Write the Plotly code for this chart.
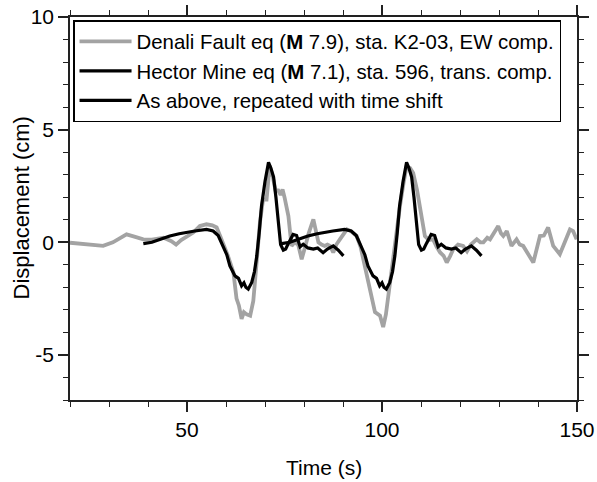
import plotly.graph_objects as go

# Denali Fault eq, sta. K2-03, EW comp. (time s, displacement cm)
denali_t = [20, 24, 28.5, 31, 34.5, 36.5, 38.8, 41, 44, 46, 47.2, 48.5, 50, 51.6, 53.3, 55.0,
            56.5, 57.6, 58.5, 59.5, 60.5, 61.9, 62.7, 63.3, 64.0, 64.6, 65.3, 66.2, 67.0, 67.8,
            68.7, 69.5, 70.4, 71.2, 72.0, 72.7, 73.4, 74.0, 74.5, 75.0, 76.0, 76.8, 77.6, 78.5,
            79.4, 80.3, 81.2, 82.4, 83.0, 83.7, 84.5, 85.3, 86.0, 86.7, 87.5, 88.3, 89.2, 90.0,
            91.0, 92.0, 93.5, 94.5, 95.5, 96.9, 97.6, 98.2, 99.5, 100.3, 101.0, 101.6, 102.5,
            103.3, 104.6, 105.5, 106.3, 107.2, 108.0, 109.0, 109.7, 110.4, 111.0, 112.0, 113.1,
            114.0, 114.9, 115.8, 116.6, 117.5, 118.3, 119.5, 120.8, 121.8, 122.8, 124.3, 125.2,
            126.0, 127.0, 127.7, 128.8, 129.8, 130.5, 131.1, 132.0, 133.2, 134.5, 135.3, 136.2,
            137.5, 138.8, 140.5, 141.5, 142.6, 143.2, 143.9, 145.6, 147.0, 148.2, 149.0, 149.9]
denali_d = [-0.02, -0.1, -0.16, 0.0, 0.35, 0.25, 0.13, 0.12, 0.2, 0.05, -0.1, 0.1, 0.25, 0.43, 0.72, 0.8,
            0.75, 0.66, 0.28, -0.16, -0.6, -1.34, -2.5, -2.8, -3.4, -3.1, -3.2, -3.26, -2.6, -1.0,
            0.88, 1.9, 1.9, 3.4, 2.9, 2.3, 2.3, 2.1, 2.35, 2.0, 1.16, -0.16, 0.0, -0.1,
            -0.75, -0.2, 0.4, 1.02, 0.6, 0.0, -0.1, -0.16, -0.1, -0.16, -0.45, -0.1, 0.13, 0.3,
            0.57, 0.5, 0.28, -0.2, -1.0, -2.2, -2.7, -3.1, -3.26, -3.76, -3.2, -2.37, -1.2,
            -0.16, 1.6, 2.6, 3.37, 3.3, 3.08, 2.3, 1.6, 0.8, 0.28, 0.1, 0.13,
            -0.2, -0.45, -0.6, -0.9, -0.6, -0.3, -0.1, -0.16, -0.4, -0.1, 0.13, 0.0,
            0.0, 0.2, 0.13, 0.45, 0.72, 0.4, 0.28, 0.5, -0.16, 0.13, -0.1, -0.16,
            -0.5, -0.9, 0.28, 0.3, 0.66, 0.2, -0.16, -0.53, 0.1, 0.57, 0.5, 0.13]

# Hector Mine eq, sta. 596, trans. comp.
hector_t = [38.8, 41, 43, 45.6, 48, 50, 52, 55.0, 56.7, 58, 59.3, 60.2, 61.0, 62.3, 63.2, 64.0,
            64.6, 65.1, 65.7, 66.6, 67.3, 67.9, 68.5, 69.1, 70.0, 70.9, 71.5, 72.2, 72.8, 73.4,
            74.0, 74.7, 75.3, 76.0, 76.6, 77.2, 78.1, 79.0, 79.8, 81.0, 82.4, 83.5, 84.9, 86.0,
            87.5, 88.8, 90.1]
hector_d = [-0.06, 0.0, 0.12, 0.28, 0.38, 0.45, 0.5, 0.57, 0.5, 0.3, -0.16, -0.55, -1.05, -1.49, -1.6, -1.93,
            -1.8, -2.0, -2.08, -1.78, -1.3, -0.6, 0.4, 1.6, 2.7, 3.55, 3.3, 2.9, 2.0, 1.0,
            -0.1, -0.35, -0.3, -0.05, 0.13, 0.35, 0.3, -0.2, -0.09, -0.25, -0.3, -0.25, -0.46, -0.3,
            -0.16, -0.35, -0.6]
time_shift = 35.4

labels = ["Denali Fault eq (<b>M</b> 7.9), sta. K2-03, EW comp.",
          "Hector Mine eq (<b>M</b> 7.1), sta. 596, trans. comp.",
          "As above, repeated with time shift"]

x_range = [20, 150]
y_range = [-7, 10]
x_tickvals = [50, 100, 150]
x_ticktext = ["50", "100", "150"]
y_tickvals = [-5, 0, 5, 10]
y_ticktext = ["-5", "0", "5", "10"]

FONT = "Liberation Sans, Arial, Helvetica, sans-serif"
AX = "#222"

fig = go.Figure()
fig.add_trace(go.Scatter(x=denali_t, y=denali_d, mode="lines", name=labels[0],
                         line=dict(color="#a3a3a3", width=3.8)))
fig.add_trace(go.Scatter(x=hector_t, y=hector_d, mode="lines", name=labels[1],
                         line=dict(color="black", width=3.2)))
fig.add_trace(go.Scatter(x=[t + time_shift for t in hector_t], y=hector_d, mode="lines",
                         name=labels[2], line=dict(color="black", width=3.2)))

tick_common = dict(ticks="outside", tickwidth=1.5, tickcolor=AX,
                   showgrid=False, zeroline=False, automargin=False,
                   tickfont=dict(family=FONT, size=21, color="black"))

fig.update_layout(
    xaxis=dict(range=x_range, tickmode="array", tickvals=x_tickvals, ticktext=x_ticktext, ticklen=10,
               minor=dict(dtick=10, tick0=0, ticks="outside", ticklen=5, tickwidth=1.2, tickcolor=AX),
               showline=True, linecolor=AX, linewidth=1.5, mirror="ticks",
               **tick_common),
    yaxis=dict(range=y_range, tickmode="array", tickvals=y_tickvals, ticktext=y_ticktext, ticklen=10,
               minor=dict(dtick=1, tick0=0, ticks="outside", ticklen=5, tickwidth=1.2, tickcolor=AX),
               showline=True, linecolor=AX, linewidth=1.5, mirror="ticks",
               **tick_common),
    # overlay axes that carry the small ticks on the top and right edges
    xaxis2=dict(range=x_range, overlaying="x", side="top", anchor="y", tickmode="linear",
                tick0=0, dtick=10, ticklen=5, showticklabels=False, showline=False, **tick_common),
    yaxis2=dict(range=y_range, overlaying="y", side="right", anchor="x", tickmode="linear",
                tick0=0, dtick=1, ticklen=5, showticklabels=False, showline=False, **tick_common),
    width=597, height=482,
    margin=dict(l=70, r=20, t=17, b=82),
    plot_bgcolor="white", paper_bgcolor="white",
    font=dict(family=FONT, color="black"),
    legend=dict(x=0.006, y=0.992, xanchor="left", yanchor="top",
                bgcolor="white", bordercolor="black", borderwidth=1.5,
                font=dict(family=FONT, size=20.4, color="black"),
                tracegroupgap=0, itemwidth=52),
    showlegend=True,
    annotations=[
        dict(text="Displacement (cm)", textangle=-90, xref="paper", yref="paper",
             x=0, y=0.5, xanchor="center", yanchor="middle", xshift=-49, showarrow=False,
             font=dict(family=FONT, size=22, color="black")),
        dict(text="Time (s)", xref="paper", yref="paper",
             x=0.5, y=0, xanchor="center", yanchor="middle", yshift=-67, showarrow=False,
             font=dict(family=FONT, size=21, color="black")),
    ],
)

fig.write_html("out.html")
